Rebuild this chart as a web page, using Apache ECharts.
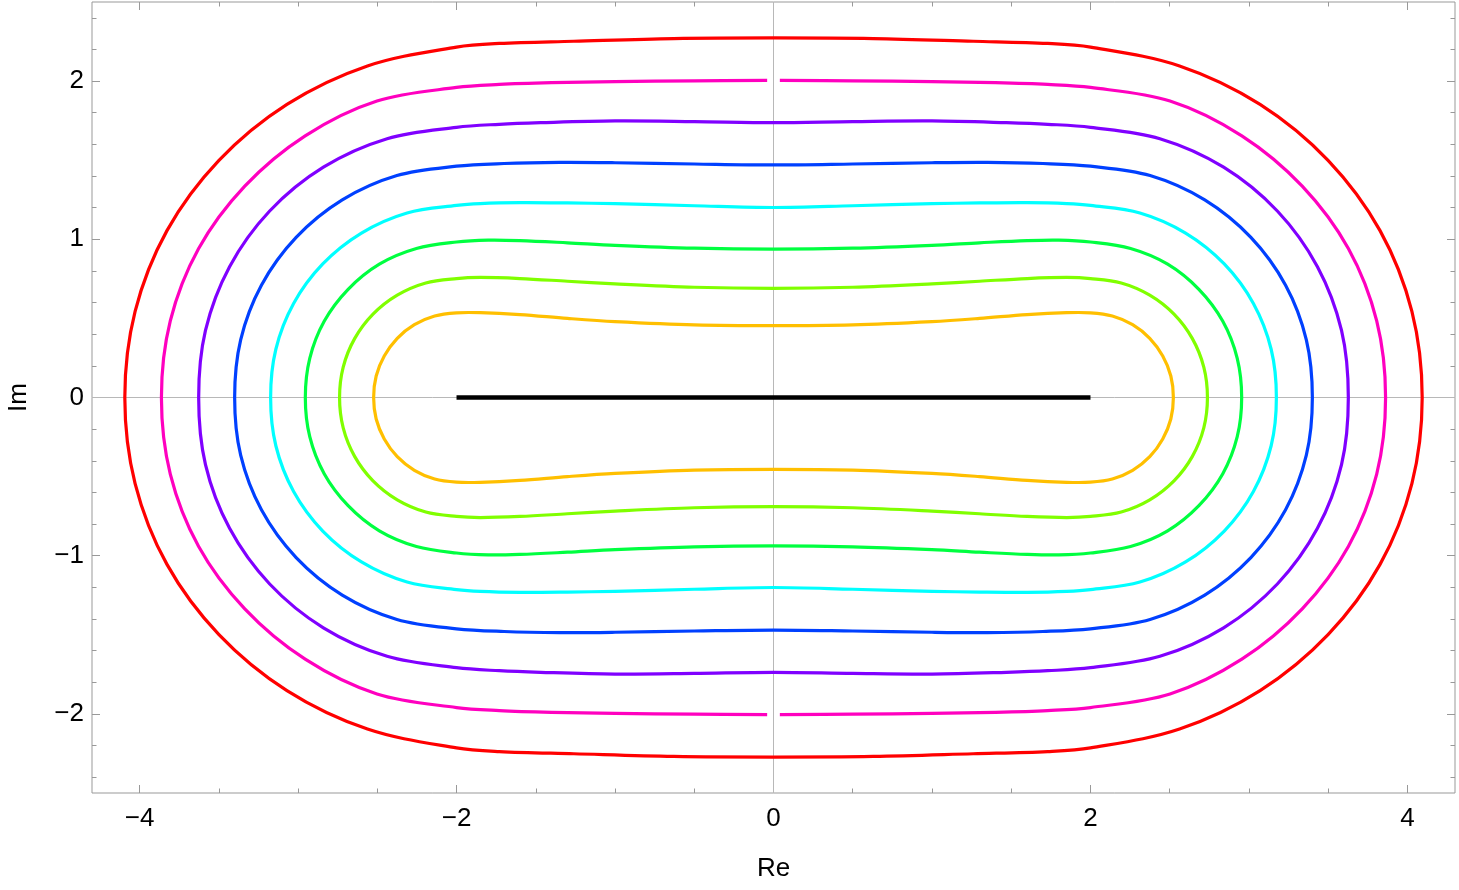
<!DOCTYPE html>
<html>
<head>
<meta charset="utf-8">
<script src="https://cdn.jsdelivr.net/npm/echarts@6/dist/echarts.min.js"></script>
<style>
  html, body { margin: 0; padding: 0; background: #fff; }
  #main { width: 1459px; height: 890px; }
</style>
</head>
<body>
<div id="main"></div>
<script>
// 刻度
const xMajorTicks = [-4, -2, 0, 2, 4]
const xMinorTicks = [-3.5, -3, -2.5, -1.5, -1, -0.5, 0.5, 1, 1.5, 2.5, 3, 3.5]
const yMajorTicks = [-2, -1, 0, 1, 2]
const yMinorTicks = [-2.4, -2.2, -1.8, -1.6, -1.4, -1.2, -0.8, -0.6, -0.4, -0.2,
  0.2, 0.4, 0.6, 0.8, 1.2, 1.4, 1.6, 1.8, 2.2, 2.4]

// 割线 [-2, 2]
const cutData = [[-2, 0], [2, 0]]

// 每条曲线第一象限的读数 (x 从 0 到与实轴的交点)
const orangeQ = [[0, 0.454], [0.5, 0.459], [1.0, 0.48], [1.3, 0.5], [1.6, 0.524], [1.85, 0.536],
  [2.0, 0.535], [2.138, 0.515], [2.266, 0.46], [2.374, 0.374], [2.456, 0.262], [2.507, 0.136],
  [2.523, 0]]
const limeQ = [[0, 0.69], [0.5, 0.697], [1.0, 0.718], [1.3, 0.735], [1.6, 0.752], [1.85, 0.759],
  [2.0, 0.752], [2.194, 0.724], [2.374, 0.647], [2.527, 0.527], [2.643, 0.372], [2.715, 0.192],
  [2.738, 0]]
const greenQ = [[0, 0.938], [0.5, 0.944], [1.0, 0.962], [1.3, 0.978], [1.6, 0.992], [1.8, 0.995],
  [2.0, 0.983], [2.253, 0.942], [2.487, 0.843], [2.684, 0.684], [2.835, 0.482], [2.926, 0.248],
  [2.954, 0]]
const cyanQ = [[0, 1.201], [0.5, 1.212], [1.0, 1.225], [1.3, 1.23], [1.6, 1.232], [1.85, 1.226],
  [2.0, 1.214], [2.312, 1.166], [2.6, 1.039], [2.844, 0.844], [3.028, 0.594], [3.14, 0.305],
  [3.173, 0]]
const blueQ = [[0, 1.47], [0.5, 1.476], [1.0, 1.484], [1.35, 1.486], [1.7, 1.479], [2.0, 1.462],
  [2.376, 1.403], [2.721, 1.249], [3.012, 1.012], [3.231, 0.71], [3.362, 0.365], [3.4, 0]]
const purpleQ = [[0, 1.737], [0.5, 1.744], [1.0, 1.748], [1.47, 1.737], [1.73, 1.727], [2.0, 1.708],
  [2.438, 1.636], [2.84, 1.456], [3.179, 1.179], [3.432, 0.827], [3.584, 0.424], [3.627, 0]]
// 品红曲线在 x=0 处断开
const magentaQ = [[0.04, 2.004], [0.5, 2.002], [1.0, 1.997], [1.4, 1.99], [1.73, 1.979], [2.0, 1.96],
  [2.502, 1.874], [2.955, 1.654], [3.336, 1.336], [3.628, 0.94], [3.806, 0.484], [3.862, 0]]
const redQ = [[0, 2.273], [0.63, 2.269], [1.26, 2.252], [1.73, 2.238], [2.0, 2.215], [2.562, 2.096],
  [3.07, 1.853], [3.499, 1.499], [3.827, 1.055], [4.028, 0.544], [4.093, 0]]

// 由第一象限镜像成闭合曲线 (首尾不重复)
const closedLoop = (q) => {
  const n = q.length
  const pts = q.map(p => [p[0], p[1]])
  for (let i = n - 2; i >= 0; i--) pts.push([q[i][0], -q[i][1]])
  for (let i = 1; i < n; i++) pts.push([-q[i][0], -q[i][1]])
  for (let i = n - 2; i >= 1; i--) pts.push([-q[i][0], q[i][1]])
  return pts
}
// 右半边 / 左半边
const halfLoop = (q, sx) => {
  const pts = q.map(p => [sx * p[0], p[1]])
  for (let i = q.length - 2; i >= 0; i--) pts.push([sx * q[i][0], -q[i][1]])
  return pts
}

const fmt = v => (v < 0 ? '\u2212' + (-v) : String(v))
const frameColor = '#999'
const labelFont = { color: '#000', fontSize: 26, fontFamily: 'Liberation Sans, Arial, sans-serif' }

const xAxisDef = (pos, ticks, len, showLabel) => ({
  type: 'value', position: pos, min: -4.3, max: 4.3,
  axisLine: { show: false, onZero: false }, splitLine: { show: false },
  axisTick: { show: true, inside: true, length: len, customValues: ticks, lineStyle: { color: frameColor } },
  axisLabel: Object.assign({ show: showLabel, customValues: ticks, formatter: fmt, margin: 13 }, labelFont)
})
const yAxisDef = (pos, ticks, len, showLabel) => ({
  type: 'value', position: pos, min: -2.5, max: 2.5,
  axisLine: { show: false, onZero: false }, splitLine: { show: false },
  axisTick: { show: true, inside: true, length: len, customValues: ticks, lineStyle: { color: frameColor } },
  axisLabel: Object.assign({ show: showLabel, customValues: ticks, formatter: fmt, margin: 8 }, labelFont)
})

const xAxes = [
  xAxisDef('bottom', xMajorTicks, 8, true),
  xAxisDef('bottom', xMinorTicks, 4.5, false),
  xAxisDef('top', xMajorTicks, 8, false),
  xAxisDef('top', xMinorTicks, 4.5, false)
]
xAxes[0].name = 'Re'
xAxes[0].nameLocation = 'middle'
xAxes[0].nameGap = 63
xAxes[0].nameTextStyle = labelFont

const yAxes = [
  yAxisDef('left', yMajorTicks, 8, true),
  yAxisDef('left', yMinorTicks, 4.5, false),
  yAxisDef('right', yMajorTicks, 8, false),
  yAxisDef('right', yMinorTicks, 4.5, false)
]
yAxes[0].name = 'Im'
yAxes[0].nameLocation = 'middle'
yAxes[0].nameGap = 60
yAxes[0].nameRotate = 90
yAxes[0].nameTextStyle = labelFont

// 用自定义系列画平滑曲线, 点经由坐标轴换算
const curve = (pts, color, closed) => ({
  type: 'custom', data: [[0, 0]], silent: true, z: 3, clip: true,
  renderItem: (params, api) => ({
    type: closed ? 'polygon' : 'polyline',
    shape: { points: pts.map(p => api.coord(p)), smooth: 0.34 },
    style: { fill: 'none', stroke: color, lineWidth: 3.2 }
  })
})

const myChart = echarts.init(document.querySelector('#main'))
const option = {
  animation: false,
  grid: {
    left: 92, right: 4, top: 2, bottom: 97, outerBoundsMode: 'none',
    show: true, borderColor: frameColor, borderWidth: 1
  },
  xAxis: xAxes,
  yAxis: yAxes,
  series: [
    {
      // 坐标轴 x=0, y=0 的细灰线
      type: 'line', data: cutData, showSymbol: false, silent: true, z: 1,
      lineStyle: { opacity: 0 },
      markLine: {
        z: 1, silent: true, symbol: 'none', label: { show: false },
        lineStyle: { color: '#b8b8b8', width: 1, type: 'solid' },
        data: [{ xAxis: 0 }, { yAxis: 0 }]
      }
    },
    {
      type: 'line', data: cutData, showSymbol: false, silent: true, z: 2,
      lineStyle: { color: '#000', width: 4.5 }
    },
    curve(closedLoop(orangeQ), '#ffbf00', true),
    curve(closedLoop(limeQ), '#80ff00', true),
    curve(closedLoop(greenQ), '#00ff40', true),
    curve(closedLoop(cyanQ), '#00ffff', true),
    curve(closedLoop(blueQ), '#0040ff', true),
    curve(closedLoop(purpleQ), '#8000ff', true),
    curve(halfLoop(magentaQ, 1), '#ff00bf', false),
    curve(halfLoop(magentaQ, -1), '#ff00bf', false),
    curve(closedLoop(redQ), '#ff0000', true)
  ]
}
myChart.setOption(option)
</script>
</body>
</html>
